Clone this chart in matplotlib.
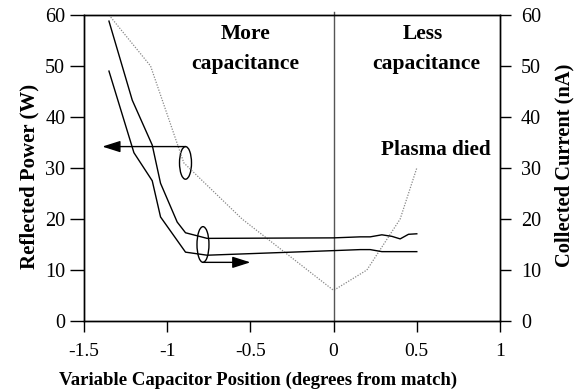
import matplotlib
matplotlib.use("Agg")
import matplotlib.pyplot as plt
from matplotlib.patches import Ellipse

plt.rcParams['font.family'] = ['Liberation Serif', 'DejaVu Serif']

# Reflected power (W), dotted, left axis
refl_x = [-1.35, -1.1, -0.9, -0.55, 0.0, 0.2, 0.4, 0.5]
refl_y = [60, 50, 31, 20, 6, 10, 20, 30]

# Collected current (nA), right axis, two runs
cur1_x = [-1.35, -1.21, -1.09, -1.04, -0.94, -0.89, -0.76, 0.0, 0.16, 0.22, 0.29, 0.35, 0.40, 0.45, 0.5]
cur1_y = [58.8, 43.3, 34.5, 27, 19.4, 17.3, 16.2, 16.3, 16.5, 16.5, 16.9, 16.6, 16.1, 17.0, 17.1]
cur2_x = [-1.35, -1.2, -1.09, -1.04, -0.89, -0.76, 0.0, 0.16, 0.22, 0.29, 0.5]
cur2_y = [49, 33, 27.5, 20.4, 13.5, 12.9, 13.8, 14.0, 14.0, 13.6, 13.6]

xticks = [-1.5, -1, -0.5, 0, 0.5, 1]
xtick_labels = ['-1.5', '-1', '-0.5', '0', '0.5', '1']
yticks = [0, 10, 20, 30, 40, 50, 60]

fig = plt.figure(figsize=(5.84, 3.92), dpi=100)
ax = fig.add_axes([84/584, 1-321/392, 416/584, 306/392])
ax2 = ax.twinx()

ax.plot(refl_x, refl_y, color='#888888', lw=0.9, ls=(0, (1, 1.2)))
ax2.plot(cur1_x, cur1_y, color='black', lw=1.0)
ax2.plot(cur2_x, cur2_y, color='black', lw=1.0)
ax.axvline(0, ymin=0, ymax=1.01, color='#555555', lw=1.0, clip_on=False)

ax.set_xlim(-1.5, 1)
ax.set_ylim(0, 60)
ax2.set_ylim(0, 60)
ax.set_xticks(xticks)
ax.set_xticklabels(xtick_labels)
ax.set_yticks(yticks)
ax2.set_yticks(yticks)

for a in (ax, ax2):
    for s in a.spines.values():
        s.set_linewidth(1.0)
ax.tick_params(axis='y', direction='out', length=10, width=1.0, labelsize=14.5, pad=3.5)
ax.tick_params(axis='x', direction='out', length=8, width=1.0, labelsize=14, pad=8)
ax2.tick_params(axis='y', direction='out', length=8, width=1.0, labelsize=14.5, pad=7)

ax.set_ylabel('Reflected Power (W)', fontsize=15, fontweight='bold')
ax2.set_ylabel('Collected Current (nA)', fontsize=14.8, fontweight='bold')
ax.set_xlabel('Variable Capacitor Position (degrees from match)', fontsize=13.5, fontweight='bold')
ax.yaxis.label.set_verticalalignment('center')
ax2.yaxis.label.set_verticalalignment('center')
ax.xaxis.label.set_verticalalignment('center')
ax.yaxis.set_label_coords(-0.130, 0.474)
ax2.yaxis.set_label_coords(1.156, 0.51)
ax.xaxis.set_label_coords(0.419, -0.193)

# annotations
ax.text(-0.532, 56.3, 'More', ha='center', va='center', fontsize=15.5, fontweight='bold')
ax.text(-0.53, 50.4, 'capacitance', ha='center', va='center', fontsize=15.5, fontweight='bold')
ax.text(0.537, 56.3, 'Less', ha='center', va='center', fontsize=15.5, fontweight='bold')
ax.text(0.555, 50.4, 'capacitance', ha='center', va='center', fontsize=15.5, fontweight='bold')
ax.text(0.615, 33.5, 'Plasma died', ha='center', va='center', fontsize=15.2, fontweight='bold')

# ellipses and arrows
ax.add_patch(Ellipse((-0.89, 31), 0.072, 6.4, fill=False, color='black', lw=1.0))
ax.add_patch(Ellipse((-0.785, 15), 0.072, 7.0, fill=False, color='black', lw=1.0))
ax.annotate('', xy=(-1.39, 34.2), xytext=(-0.89, 34.2),
            arrowprops=dict(arrowstyle='-|>,head_length=1.1,head_width=0.35',
                            color='black', lw=1.0, shrinkA=0, shrinkB=0))
ax.annotate('', xy=(-0.5, 11.5), xytext=(-0.785, 11.5),
            arrowprops=dict(arrowstyle='-|>,head_length=1.1,head_width=0.35',
                            color='black', lw=1.0, shrinkA=0, shrinkB=0))

fig.savefig('out.png', dpi=100)
